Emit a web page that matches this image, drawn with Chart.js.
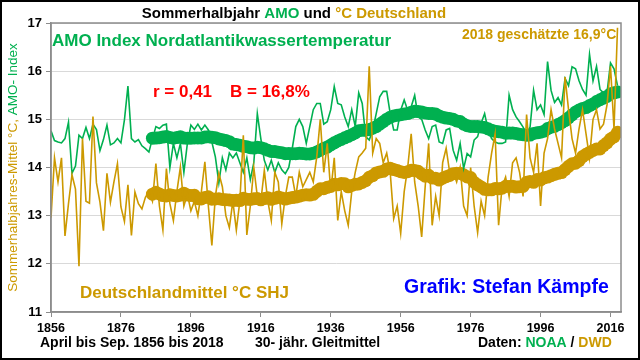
<!DOCTYPE html>
<html>
<head>
<meta charset="utf-8">
<script src="https://cdn.jsdelivr.net/npm/chart.js@4"></script>
<style>
  html, body { margin: 0; padding: 0; background: #fff; }
  canvas { display: block; }
</style>
</head>
<body>
<canvas id="canvas" width="640" height="360"></canvas>
<script>
// Jahre 1856 .. 2018 (Sommerhalbjahr April - September)
const years = []
for (let y = 1856; y <= 2018; y++) years.push(y)

const xTickLabels = [1856, 1876, 1896, 1916, 1936, 1956, 1976, 1996, 2016]
const yTickLabels = [11, 12, 13, 14, 15, 16, 17]

// AMO Index (Nordatlantik), Sommerhalbjahr
const amo = [
  14.76, 14.56, 14.53, 14.51, 14.6, 14.94, 13.88, 14.03, 14.67, 14.6,
  14.83, 14.6, 14.9, 14.79, 14.35, 14.58, 14.88, 14.47, 14.51, 14.6,
  14.51, 14.99, 15.69, 14.6, 14.53, 14.58, 14.45, 14.39, 14.32, 14.6,
  14.85, 14.81, 14.88, 14.9, 14.0, 14.5, 14.2, 14.5, 13.9, 14.5,
  14.88, 14.79, 14.9, 14.78, 14.88, 14.78, 14.53, 14.22, 13.68, 14.2,
  13.95, 14.3, 14.2, 14.3, 14.1, 13.9, 14.2, 13.75, 14.1, 15.12,
  14.6, 14.15, 13.95, 14.15, 13.9, 14.1, 13.95, 13.87, 14.0, 14.4,
  14.85, 15.0, 14.85, 14.5, 14.85, 15.2, 15.33, 15.33, 14.9, 14.95,
  15.2, 15.68, 15.33, 15.3, 15.05, 14.85, 15.2, 14.85, 15.55, 15.33,
  14.64, 14.57, 14.78, 15.12, 15.47, 15.58, 15.58, 15.12, 14.78, 14.78,
  15.19, 15.4, 15.19, 15.26, 15.5, 15.05, 15.0, 14.78, 14.6, 14.85,
  14.88, 14.53, 14.5, 14.78, 14.81, 14.36, 14.15, 14.5, 13.98, 14.29,
  14.22, 14.57, 14.64, 14.92, 15.12, 14.78, 14.6, 14.53, 14.5, 14.5,
  14.53, 15.5, 15.2, 15.05, 14.95, 14.84, 14.7, 14.84, 15.6, 15.2,
  15.3, 15.1, 16.2, 15.6, 15.35, 15.45, 15.3, 15.85, 15.7, 16.09,
  16.05, 15.8, 15.62, 15.5, 16.35, 15.8, 16.1, 15.62, 15.55, 15.55,
  16.17, 16.05, 15.7
]

// Deutschlandmittel °C, Sommerhalbjahr (2018 geschaetzt)
const deutschland = [
  12.96, 14.2, 13.7, 14.2, 12.58, 13.25, 13.85, 13.55, 11.95, 14.6,
  13.3, 13.26, 15.06, 13.68, 13.28, 12.69, 13.88, 13.28, 13.7, 14.08,
  13.18, 12.88, 13.64, 12.59, 13.49, 13.25, 13.14, 13.38, 13.5, 13.3,
  14.08, 13.2, 12.7, 13.98, 13.25, 12.9, 13.5, 14.01, 13.2, 13.45,
  13.1, 13.3, 13.0, 13.5, 14.12, 13.2, 12.38, 13.4, 13.88, 13.6,
  13.0, 12.75, 13.3, 12.7, 13.3, 14.67, 12.6, 13.2, 14.0, 13.4,
  13.3, 13.94, 13.3, 12.9, 13.9, 13.7, 12.83, 13.4, 13.8, 13.8,
  13.4, 13.9, 13.6, 13.75, 13.9, 13.7, 14.22, 15.0, 13.9, 14.5,
  13.5, 14.2, 12.9, 13.5, 13.1, 12.8, 13.5, 13.9, 14.22, 14.3,
  14.4, 16.1, 14.3, 14.6, 14.5, 14.1, 14.3, 13.9, 12.94, 13.2,
  12.63, 13.5, 14.0, 14.7, 13.7, 13.2, 12.56, 13.6, 14.5, 12.8,
  13.4, 13.0, 14.1, 14.4, 13.9, 13.9, 13.7, 14.0, 13.2, 13.0,
  14.0, 13.2, 12.65, 13.3, 13.0, 13.8, 14.3, 14.7, 12.8, 13.6,
  13.8, 13.4, 14.1, 14.2, 13.9, 13.4, 15.1, 14.2, 13.9, 14.5,
  13.2, 14.3, 14.6, 15.2, 14.8, 14.5, 14.2, 15.88, 15.2, 14.6,
  14.3, 14.8, 15.2, 14.7, 14.2, 15.0, 15.2, 14.8, 14.9, 15.3,
  16.1, 14.8, 16.9
]

const GRUEN = '#00b050'
const GOLD = '#cc9900'

// 30-jaehriges Gleitmittel (nachlaufend)
function gleitmittel(values, n) {
  return values.map((v, i) => {
    if (i < n - 1) return null
    let sum = 0
    for (let k = i - n + 1; k <= i; k++) sum += values[k]
    return sum / n
  })
}

const amoMittel = gleitmittel(amo, 30)
const deMittel = gleitmittel(deutschland, 30)

const toPoints = arr => years.map((y, i) => ({ x: y, y: arr[i] }))

// Texte, Rahmen usw.
const beschriftung = {
  id: 'beschriftung',
  beforeDraw(chart) {
    const ctx = chart.ctx
    ctx.save()
    ctx.fillStyle = '#fff'
    ctx.fillRect(0, 0, chart.width, chart.height)
    ctx.restore()
  },
  afterDraw(chart) {
    const ctx = chart.ctx
    const a = chart.chartArea
    ctx.save()

    // Rahmen Plotflaeche
    ctx.strokeStyle = '#8c8c8c'
    ctx.lineWidth = 1.5
    ctx.strokeRect(a.left, a.top, a.right - a.left, a.bottom - a.top)

    // mehrfarbige Zeile
    function parts(list, x, y, font) {
      ctx.font = font
      ctx.textBaseline = 'middle'
      ctx.textAlign = 'left'
      for (const [txt, col] of list) {
        ctx.fillStyle = col
        ctx.fillText(txt, x, y)
        x += ctx.measureText(txt).width
      }
    }
    function width(list, font) {
      ctx.font = font
      return list.reduce((w, p) => w + ctx.measureText(p[0]).width, 0)
    }

    // Titel
    const titel = [['Sommerhalbjahr ', '#000'], ['AMO', GRUEN], [' und ', '#000'], ['°C Deutschland', GOLD]]
    const fT = 'bold 15px "Liberation Sans", Arial, sans-serif'
    parts(titel, 294 - width(titel, fT) / 2, 14, fT)

    // Texte in der Plotflaeche
    parts([['AMO Index Nordatlantikwassertemperatur', GRUEN]], 52, 41, 'bold 17px "Liberation Sans", Arial, sans-serif')
    parts([['2018 geschätzte 16,9°C', GOLD]], 462, 35, 'bold 14px "Liberation Sans", Arial, sans-serif')
    parts([['r = 0,41', '#ff0000']], 153, 92, 'bold 17px "Liberation Sans", Arial, sans-serif')
    parts([['B = 16,8%', '#ff0000']], 230, 92, 'bold 17px "Liberation Sans", Arial, sans-serif')
    parts([['Deutschlandmittel °C SHJ', GOLD]], 80, 293, 'bold 17px "Liberation Sans", Arial, sans-serif')
    parts([['Grafik: Stefan Kämpfe', '#0000ff']], 404, 288, 'bold 19.5px "Liberation Sans", Arial, sans-serif')

    // Fusszeile
    const fF = 'bold 14px "Liberation Sans", Arial, sans-serif'
    parts([['April bis Sep. 1856 bis 2018', '#000']], 40, 343, fF)
    parts([['30- jähr. Gleitmittel', '#000']], 255, 343, fF)
    parts([['Daten: ', '#000'], ['NOAA', GRUEN], [' / ', '#000'], ['DWD', GOLD]], 478, 343, fF)

    // Achsentitel links (gedreht)
    const achse = [['Sommerhalbjahres-Mittel °C, ', GOLD], ['AMO- Index', GRUEN]]
    const fA = '13.5px "Liberation Sans", Arial, sans-serif'
    ctx.translate(13, (a.top + a.bottom) / 2)
    ctx.rotate(-Math.PI / 2)
    parts(achse, -width(achse, fA) / 2, 0, fA)
    ctx.setTransform(1, 0, 0, 1, 0, 0)

    // Bildrahmen
    ctx.strokeStyle = '#000'
    ctx.lineWidth = 2
    ctx.strokeRect(1, 1, chart.width - 2, chart.height - 2)
    ctx.restore()
  }
}

const data = {
  datasets: [
    {
      label: 'Deutschlandmittel °C SHJ',
      data: toPoints(deutschland),
      borderColor: GOLD,
      borderWidth: 1.6,
      pointRadius: 0,
      order: 0,
    },
    {
      label: 'AMO Index',
      data: toPoints(amo),
      borderColor: GRUEN,
      borderWidth: 1.6,
      pointRadius: 0,
      order: 0,
    },
    {
      label: 'AMO 30- jähr. Gleitmittel',
      data: toPoints(amoMittel),
      borderColor: GRUEN,
      backgroundColor: GRUEN,
      borderWidth: 11,
      borderCapStyle: 'round',
      borderJoinStyle: 'round',
      pointRadius: 6.5,
      pointBorderWidth: 0,
      order: 1,
    },
    {
      label: 'DE 30- jähr. Gleitmittel',
      data: toPoints(deMittel),
      borderColor: GOLD,
      backgroundColor: GOLD,
      borderWidth: 11,
      borderCapStyle: 'round',
      borderJoinStyle: 'round',
      pointRadius: 6.5,
      pointBorderWidth: 0,
      order: 1,
    },
  ],
}

const config = {
  type: 'line',
  data: data,
  plugins: [beschriftung],
  options: {
    responsive: false,
    animation: false,
    layout: { padding: { top: 23, right: 19, bottom: 0, left: 0 } },
    plugins: {
      legend: { display: false },
      tooltip: { enabled: false },
    },
    scales: {
      x: {
        type: 'linear',
        min: 1856,
        max: 2019,
        afterBuildTicks: s => { s.ticks = xTickLabels.map(v => ({ value: v })) },
        afterFit: s => { s.height = 48 },
        ticks: {
          autoSkip: false,
          maxRotation: 0,
          padding: 4,
          color: '#000',
          font: { family: '"Liberation Sans", Arial, sans-serif', size: 12.5, weight: 'bold' },
          callback: v => String(v),
        },
        grid: { drawOnChartArea: false, tickLength: 5, color: '#8c8c8c' },
        border: { color: '#8c8c8c', width: 1.5 },
      },
      y: {
        min: 11,
        max: 17,
        afterBuildTicks: s => { s.ticks = yTickLabels.map(v => ({ value: v })) },
        afterFit: s => { s.width = 51 },
        ticks: {
          padding: 4,
          color: '#000',
          font: { family: '"Liberation Sans", Arial, sans-serif', size: 13, weight: 'bold' },
        },
        grid: { color: '#d9d9d9', lineWidth: 1, tickLength: 5, tickColor: '#8c8c8c' },
        border: { color: '#8c8c8c', width: 1.5 },
      },
    },
  },
}

const canvas = document.getElementById('canvas')
const chart = new Chart(canvas, config)
</script>
</body>
</html>
